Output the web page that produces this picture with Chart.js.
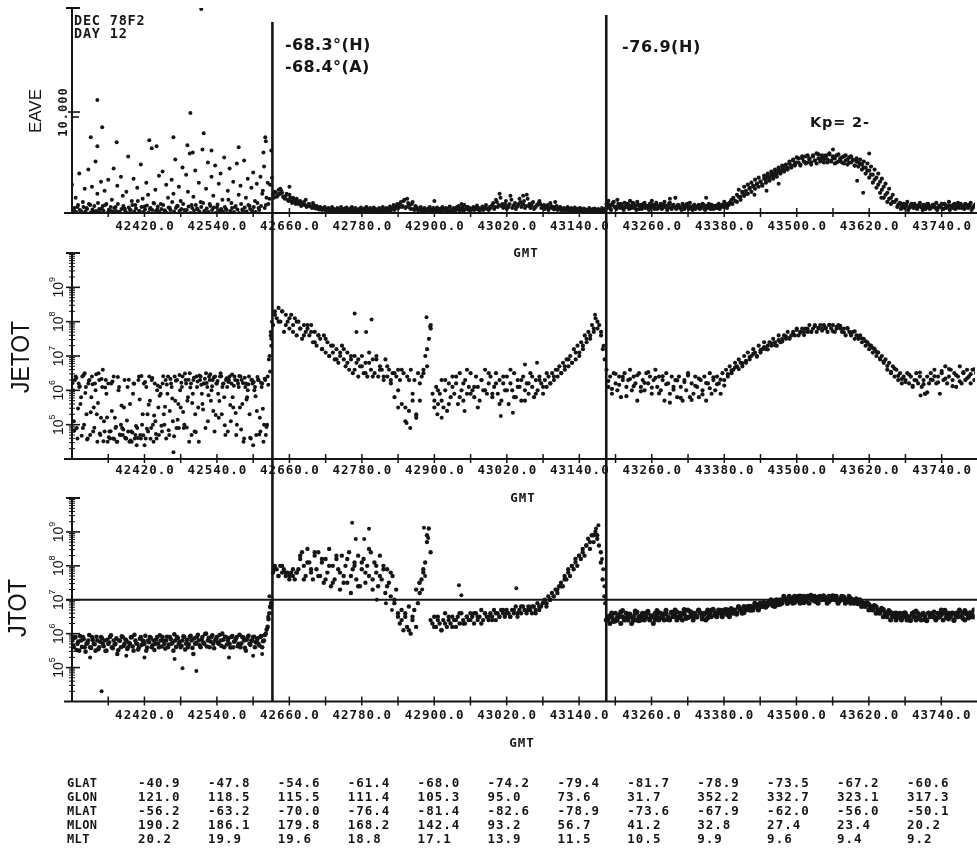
<!DOCTYPE html>
<html>
<head>
<meta charset="utf-8">
<title>DEC 78F2 DAY 12</title>
<script src="https://cdn.jsdelivr.net/npm/chart.js@4.4.1/dist/chart.umd.min.js"></script>
<style>
  html, body { margin: 0; padding: 0; background: #fff; }
  #wrap { position: relative; width: 977px; height: 850px; overflow: hidden; background: #fff; }
  .layer { position: absolute; left: 0; top: 0; }
</style>
</head>
<body>
<div id="wrap">
  <canvas id="c1" class="layer" width="977" height="850"></canvas>
  <canvas id="c2" class="layer" width="977" height="850"></canvas>
  <canvas id="c3" class="layer" width="977" height="850"></canvas>
</div>
<script>
// ---------------------------------------------------------------------------
// Time axis (GMT seconds)
// ---------------------------------------------------------------------------
const gmtTickTimes = [42360, 42420, 42480, 42540, 42600, 42660, 42720, 42780, 42840, 42900, 42960, 43020,
                      43080, 43140, 43200, 43260, 43320, 43380, 43440, 43500, 43560, 43620, 43680, 43740];
const gmtLabelTimes = [42420, 42540, 42660, 42780, 42900, 43020, 43140, 43260, 43380, 43500, 43620, 43740];
const boundaryTimes = [42632, 43185];

// ---------------------------------------------------------------------------
// EAVE (average energy) samples, 3 s cadence
// ---------------------------------------------------------------------------
const eaveSeg1 = [ // from 42300
  2800, 300, 1500, 600, 3900, 200, 1100, 2400, 500, 4300,
  800, 2600, 150, 5100, 1900, 400, 3100, 700, 2200, 900,
  3300, 250, 1300, 4400, 600, 2700, 100, 3600, 1700, 450,
  2100, 5600, 300, 1200, 3400, 800, 2500, 200, 4800, 1400,
  650, 3000, 1800, 400, 6400, 1000, 2300, 350, 3700, 900,
  4100, 250, 2800, 1500, 500, 3300, 1900, 5300, 700, 2600,
  1200, 4500, 300, 3800, 2100, 5900, 800, 1600, 4200, 450,
  3000, 1100, 6300, 200, 2400, 5000, 900, 3600, 1700, 4700,
  550, 2900, 3900, 1300, 5500, 400, 2200, 4400, 1000, 3100,
  600, 4900, 1800, 2700, 350, 5200, 1500, 3400, 700, 2500,
  4000, 1200, 2900, 500, 3600, 1900, 4600, 800, 3000, 1400, 6200
];
const eaveSeg1Low = [ // from 42301
  200, 500, 100, 800, 300, 0, 600, 150, 400, 900,
  50, 350, 700, 200, 1000, 100, 450, 250, 800, 0,
  300, 600, 150, 500, 200, 900, 100, 400, 700, 250,
  0, 550, 300, 800, 150, 450, 1200, 200, 600, 100,
  350, 750, 50, 500, 300, 950, 200, 650, 100, 400,
  800, 250, 0, 550, 300, 1100, 150, 500, 700, 200,
  400, 900, 100, 300, 650, 0, 500, 250, 800, 350,
  150, 600, 1000, 200, 450, 100, 700, 300, 550, 0,
  850, 250, 400, 150, 600, 300, 1300, 200, 500, 100,
  700, 350, 0, 900, 250, 550, 150, 800, 400, 200,
  600, 100, 1000, 300, 700, 2200, 500, 1500, 900, 2800, 3500
];
const eaveSeg2 = [ // from 42633
  1800, 2100, 1600, 2300, 1900, 2000, 1500, 1700, 1300, 1800,
  1200, 1500, 1100, 1400, 900, 1200, 800, 1100, 1300, 700,
  900, 600, 1000, 500, 700, 400, 600, 300, 500, 250,
  400, 200, 300, 150, 350, 200, 250, 100, 300, 200,
  150, 250, 100, 300, 200, 150, 250, 100, 200, 300,
  100, 200, 150, 250, 100, 200, 300, 150, 200, 100,
  250, 150, 300, 200, 400, 250, 500, 300, 700, 450,
  900, 600, 1200, 500, 1400, 800, 400, 1100, 300, 600,
  250, 400, 200, 300, 150, 250, 350, 200, 300, 150,
  200, 300, 150, 250, 400, 200, 300, 150, 250, 350,
  200, 300, 500, 250, 400, 200, 350, 600, 300, 250,
  400, 300, 500, 350, 250, 450, 300, 600, 400, 300,
  500, 800, 400, 1300, 600, 1900, 700, 500, 900, 400,
  600, 1700, 500, 800, 400, 700, 1400, 600, 900, 500,
  1800, 700, 500, 1000, 400, 600, 800, 1200, 500, 700,
  400, 600, 300, 1000, 500, 350, 600, 300, 450, 250,
  350, 200, 400, 250, 300, 150, 350, 200, 250, 300,
  150, 250, 200, 100, 300, 150, 200, 250, 100, 200,
  150, 300, 200, 250
];
const eaveLow2 = [ // from 42634.5
  1500, 2000, 1700, 1900, 2200, 1600, 1400, 1900, 1200, 1500,
  1000, 1300, 900, 1200, 1000, 700, 1000, 800, 600, 900,
  700, 500, 800, 450, 600, 350, 500, 400, 600, 300,
  500, 350, 600, 400, 250, 500, 350, 600, 300, 450,
  550, 300, 450, 600, 350, 500, 250, 400, 550, 300,
  450, 600, 350, 500, 300, 550, 400, 250, 500, 350,
  600, 400, 500, 300, 650, 450, 800, 500, 900, 600,
  1100, 700, 1300, 600, 1000, 500, 900, 400, 700, 500,
  400, 600, 350, 500, 300, 450, 600, 350, 500, 400,
  550, 300, 450, 600, 350, 500, 400, 650, 300, 500,
  450, 600, 700, 400, 550, 800, 450, 600, 500, 350,
  600, 450, 750, 500, 400, 650, 550, 800, 450, 600,
  700, 1000, 600, 1100, 800, 1500, 900, 600, 1200, 700,
  900, 1300, 700, 1000, 600, 900, 1100, 800, 1200, 700,
  1400, 900, 700, 1100, 600, 800, 1000, 900, 700, 800,
  600, 800, 500, 700, 600, 450, 700, 500, 600, 400,
  500, 350, 600, 400, 500, 300, 550, 350, 450, 500,
  300, 450, 350, 250, 500, 300, 400, 450, 250, 400,
  300, 500, 400, 450
];
const eaveSeg3 = [ // from 43185
  900, 1200, 500, 800, 1100, 600, 1300, 700, 900, 500,
  1000, 600, 800, 1200, 500, 900, 700, 1100, 400, 800,
  600, 1000, 700, 500, 900, 1200, 600, 800, 400, 700,
  900, 500, 1100, 700, 600, 1000, 400, 800, 1500, 600,
  700, 500, 900, 400, 800, 600, 1000, 500, 700, 400,
  600, 800, 500, 900, 400, 700, 600, 500, 800, 400,
  700, 500, 900, 600, 800, 1100, 700, 900, 1000, 1300,
  1500, 1200, 1800, 2300, 1600, 2100, 2600, 1900, 2800, 2400,
  3000, 2600, 3300, 2800, 3500, 3100, 2700, 3700, 3300, 3900,
  3500, 4100, 3700, 4300, 3900, 4500, 4100, 4700, 4300, 4800,
  4500, 5100, 4700, 5300, 4900, 5500, 5000, 4700, 5400, 5100,
  5600, 5000, 5400, 4800, 5700, 5200, 4900, 5800, 5300, 5500,
  5000, 5700, 5300, 5900, 5100, 5600, 5400, 5000, 5800, 5200,
  5500, 4900, 5700, 5300, 5000, 5600, 5200, 4700, 5400, 5000,
  5300, 4800, 5100, 4500, 4900, 4200, 4600, 3800, 4300, 3500,
  3900, 3100, 3400, 2600, 2900, 2000, 2400, 1500, 1800, 1100,
  1300, 800, 1000, 600, 900, 700, 1100, 500, 800, 600,
  900, 500, 700, 1000, 600, 800, 400, 900, 700, 500,
  800, 600, 1000, 500, 700, 900, 400, 800, 600, 1100,
  700, 500, 900, 600, 1000, 800, 500, 700, 900, 600,
  800, 1000, 500, 700, 900
];
const eaveLow3a = [ // from 43186.5
  500, 800, 300, 1000, 600, 400, 900, 500, 700, 300,
  600, 900, 400, 700, 1000, 500, 300, 800, 600, 400,
  900, 500, 700, 300, 600, 800, 400, 1000, 500, 700,
  400, 800, 600, 300, 900, 500, 700, 600, 400, 800,
  500, 300, 700, 600, 900, 400, 600, 300, 800, 500,
  700, 400, 600, 800, 300, 500, 900, 400, 700, 600,
  500, 800, 400, 700, 600, 900, 500, 800, 1100, 900
];
const eaveLow3b = [ // from 43666.5
  600, 900, 400, 700, 500, 800, 300, 600, 900, 500,
  700, 400, 800, 600, 300, 700, 500, 900, 400, 600,
  800, 500, 300, 700, 600, 400, 900, 500, 700, 300,
  600, 800, 400, 700, 500, 900, 600, 400, 800, 500,
  700, 300, 600, 800
];
const eaveBump = [ // from 43401
  1100, 1600, 1300, 2000, 1700, 2200, 1900, 2500, 2100, 2700,
  2400, 2900, 2600, 3100, 2800, 3400, 3000, 3600, 3200, 3800,
  3400, 4000, 3600, 4200, 3900, 4400, 4100, 4600, 4300, 4900,
  4500, 5200, 4700, 5000, 5400, 4800, 5600, 5100, 4900, 5700,
  5300, 5000, 5600, 5200, 5900, 5400, 5100, 5700, 5300, 5600,
  5000, 5800, 5200, 5500, 4900, 5700, 5100, 5400, 5000, 5600,
  5200, 4800, 5500, 5000, 5300, 4700, 5100, 4600, 4900, 4300,
  4500, 3900, 4200, 3500, 3800, 3000, 3300, 2500, 2800, 2000,
  2300, 1500, 1800, 1100, 1400, 900, 1100
];
const eaveExtra = [
  [42514, 20200], [42342, 11200], [42496, 9900], [42350, 8500], [42518, 7900], [42331, 7500],
  [42620, 7500], [42621, 7100], [42617, 6000], [42374, 7000], [42428, 7200], [42440, 6600],
  [42468, 7500], [42491, 6700], [42342, 6600], [42576, 6500], [42531, 6200], [42500, 6000],
  [42660, 2600], [42645, 2400], [42900, 1200], [42945, 900], [43047, 1700], [43100, 1100],
  [43290, 1400], [43350, 1500], [43430, 1800], [43450, 2200], [43470, 2900], [43560, 6300],
  [43600, 3200], [43610, 2000], [43620, 5900], [43640, 1500]
];

// ---------------------------------------------------------------------------
// JETOT samples, log10 values
// ---------------------------------------------------------------------------
const jetotSeg1 = [ // from 42300
  6.3, 5.1, 6.4, 4.6, 6.1, 5.8, 4.9, 6.5, 5.3, 6.2,
  4.7, 6.4, 5.5, 6.0, 4.5, 6.3, 5.2, 6.6, 4.8, 5.9,
  6.2, 4.6, 5.4, 6.4, 4.9, 4.5, 6.1, 5.0, 4.7, 6.3,
  4.6, 4.8, 5.6, 4.5, 6.2, 4.7, 4.9, 6.4, 4.6, 5.3,
  4.4, 6.1, 4.8, 5.7, 6.3, 4.5, 5.1, 6.0, 4.7, 5.9,
  6.2, 5.0, 4.6, 6.4, 5.4, 6.1, 4.2, 5.7, 6.3, 4.9,
  5.5, 6.4, 5.0, 6.2, 5.8, 6.5, 4.7, 6.3, 5.3, 6.1,
  4.5, 6.4, 5.6, 6.2, 6.5, 5.1, 6.3, 6.0, 5.4, 6.4,
  6.2, 5.2, 6.5, 6.1, 5.8, 6.3, 4.8, 6.4, 6.2, 5.5,
  6.3, 5.0, 6.1, 6.4, 5.6, 4.6, 6.2, 6.0, 5.3, 6.3,
  4.4, 6.1, 5.4, 6.3, 4.8, 6.2, 5.0, 4.7, 6.4, 7.0, 7.3
];
const jetotSeg1B = [ // from 42302
  6.0, 6.3, 4.9, 6.2, 5.6, 6.4, 5.0, 6.1, 4.6, 6.3,
  5.8, 4.8, 6.2, 5.3, 6.5, 4.7, 6.1, 5.1, 6.3, 4.5,
  4.8, 6.2, 4.6, 5.2, 4.5, 6.0, 4.7, 4.9, 5.5, 4.6,
  6.1, 4.5, 4.8, 5.9, 4.6, 4.4, 6.3, 4.7, 5.0, 6.2,
  4.6, 5.3, 6.4, 4.9, 5.0, 6.2, 4.6, 5.5, 6.1, 4.8,
  5.3, 6.3, 5.9, 4.7, 6.2, 5.1, 6.4, 4.9, 5.6, 6.0,
  6.1, 4.9, 6.3, 5.7, 4.5, 6.2, 5.9, 4.8, 6.4, 5.5,
  6.3, 5.9, 6.2, 4.9, 6.1, 6.4, 5.7, 6.3, 4.8, 6.2,
  5.9, 6.4, 5.3, 6.2, 4.7, 6.1, 6.3, 5.1, 5.8, 6.4,
  4.7, 6.2, 5.5, 6.3, 4.5, 6.1, 5.8, 6.4, 4.6, 6.2,
  6.0, 4.7, 6.3, 5.2, 6.1, 4.5, 6.3, 5.0, 6.9, 7.6
];
const jetotSeg1C = [ // from 42301
  6.21, 4.83, 6.36, 5.47, 6.12, 4.68, 6.44, 5.92, 4.57, 6.29,
  5.36, 6.18, 4.91, 6.47, 5.63, 4.74, 6.33, 4.52, 6.08, 5.21,
  4.63, 4.81, 6.26, 4.58, 4.94, 6.39, 4.71, 5.56, 4.86, 4.62,
  5.12, 6.31, 4.54, 4.77, 6.19, 4.96, 4.61, 5.73, 6.42, 4.69,
  6.24, 4.88, 5.58, 4.59, 6.36, 5.27, 4.73, 6.14, 5.84, 4.97,
  6.41, 5.52, 6.17, 4.84, 6.33, 5.76, 4.66, 6.28, 5.14, 6.45,
  6.22, 5.37, 6.49, 4.92, 6.31, 6.08, 5.63, 6.37, 4.79, 6.26,
  6.43, 6.16, 5.44, 6.34, 6.21, 5.86, 6.47, 6.12, 6.38, 5.28,
  6.27, 5.69, 6.41, 6.19, 4.98, 6.35, 6.24, 5.57, 6.46, 6.13,
  5.34, 6.29, 6.42, 4.86, 6.21, 6.37, 5.73, 6.18, 4.62, 6.31,
  6.24, 5.83, 6.39, 4.71, 6.22, 5.46, 6.34, 4.93, 6.16, 6.55
];
const jetotSeg2 = [ // from 42633
  7.9, 8.3, 8.1, 8.4, 8.0, 8.3, 7.7, 8.2, 8.0, 7.8,
  8.2, 7.9, 8.1, 7.6, 8.0, 7.8, 7.5, 7.9, 7.7, 7.8,
  7.6, 7.9, 7.4, 7.7, 7.3, 7.6, 7.5, 7.2, 7.6, 7.1,
  7.4, 7.0, 7.3, 7.1, 6.9, 7.2, 6.8, 7.0, 7.3, 6.9,
  6.7, 7.1, 6.6, 6.9, 6.5, 7.0, 6.8, 6.4, 6.7, 7.0,
  6.5, 6.8, 6.4, 7.1, 6.6, 6.9, 6.5, 7.0, 6.4, 6.7,
  6.6, 6.3, 6.9, 6.4, 6.6, 6.2, 6.5, 5.8, 6.4, 6.6,
  6.3, 5.6, 6.5, 5.1, 6.4, 5.4, 6.6, 5.9, 6.3, 5.3,
  6.5, 5.7, 6.4, 6.6, 7.0, 6.7, 7.5, 7.9, 5.9, 5.7,
  6.1, 5.6, 5.9, 6.3, 5.5, 6.0, 5.4, 6.2, 5.8, 6.4,
  5.9, 6.2, 5.6, 6.5, 6.0, 5.7, 6.3, 5.9, 6.1, 6.5,
  6.0, 5.8, 6.4, 6.1, 5.7, 6.3, 6.0, 6.6, 5.9, 6.2,
  6.4, 5.8, 6.1, 6.5, 5.9, 6.3, 5.7, 6.2, 6.0, 6.4,
  5.6, 6.2, 6.0, 6.5, 5.8, 6.3, 6.1, 5.7, 6.4, 6.0,
  6.2, 5.9, 6.5, 6.1, 5.8, 6.3, 6.0, 6.4, 6.2, 5.9,
  6.3, 6.1, 6.4, 6.2, 6.5, 6.3, 6.6, 6.4, 6.7, 6.5,
  6.8, 6.6, 6.9, 6.7, 7.0, 6.8, 7.2, 6.9, 7.3, 7.1,
  7.4, 7.2, 7.6, 7.4, 7.7, 7.5, 7.9, 7.7, 8.1, 7.8,
  7.9, 7.6, 7.2, 6.9
];
const jetotSeg2B = [ // from 42636, 6 s
  8.2, 8.0, 8.3, 7.9, 8.1, 7.7, 8.0, 7.8, 7.6, 7.9,
  7.7, 7.4, 7.6, 7.2, 7.5, 7.0, 7.3, 6.9, 7.1, 7.2,
  6.8, 7.0, 6.6, 6.9, 6.7, 6.5, 6.8, 6.4, 6.9, 6.6,
  6.4, 6.7, 6.3, 6.5, 6.0, 6.6, 5.5, 6.3, 5.7, 5.2,
  6.2, 6.5, 7.2, 7.8, 5.5, 6.0, 5.7, 6.3, 5.6, 6.1,
  6.4, 5.8, 6.2, 6.6, 5.9, 6.1, 5.5, 6.3, 6.0, 6.5,
  5.9, 6.2, 5.6, 6.4, 6.0, 6.6, 5.8, 6.1, 6.3, 5.7,
  6.2, 6.4, 5.9, 6.3, 6.1, 6.5, 6.2, 6.4, 6.6, 6.5,
  6.7, 6.9, 6.8, 7.1, 7.0, 7.3, 7.5, 7.6, 7.8, 8.0,
  7.7
];
const jetotSeg3 = [ // from 43185
  6.6, 6.1, 6.4, 5.9, 6.5, 6.2, 6.0, 6.4, 5.8, 6.3,
  6.5, 6.1, 6.3, 6.6, 6.0, 6.4, 6.2, 5.7, 6.5, 6.1,
  6.3, 6.0, 6.5, 6.2, 6.4, 5.9, 6.3, 6.6, 6.1, 6.4,
  6.0, 6.3, 5.7, 6.5, 6.2, 5.9, 6.4, 6.1, 6.3, 5.8,
  6.4, 6.1, 5.7, 6.3, 6.0, 6.5, 5.8, 6.2, 5.9, 6.4,
  6.1, 5.8, 6.3, 6.0, 6.4, 5.7, 6.2, 6.5, 5.9, 6.3,
  6.0, 6.4, 6.2, 5.9, 6.5, 6.3, 6.6, 6.4, 6.7, 6.5,
  6.6, 6.8, 6.7, 6.9, 6.8, 6.7, 7.0, 6.8, 7.1, 6.9,
  7.0, 7.2, 7.1, 7.0, 7.3, 7.1, 7.2, 7.4, 7.2, 7.3,
  7.4, 7.3, 7.5, 7.4, 7.3, 7.6, 7.4, 7.5, 7.6, 7.5,
  7.7, 7.5, 7.6, 7.7, 7.6, 7.8, 7.6, 7.7, 7.8, 7.7,
  7.8, 7.7, 7.9, 7.7, 7.8, 7.9, 7.7, 7.8, 7.9, 7.8,
  7.9, 7.8, 7.7, 7.9, 7.8, 7.9, 7.7, 7.8, 7.9, 7.8,
  7.7, 7.8, 7.6, 7.8, 7.7, 7.6, 7.7, 7.5, 7.6, 7.5,
  7.6, 7.4, 7.5, 7.3, 7.4, 7.2, 7.3, 7.1, 7.2, 7.0,
  7.1, 6.9, 7.0, 6.8, 6.9, 6.6, 6.8, 6.5, 6.7, 6.4,
  6.6, 6.3, 6.5, 6.2, 6.4, 6.3, 6.5, 6.2, 6.4, 6.1,
  6.3, 6.5, 6.2, 6.4, 6.1, 6.3, 5.9, 6.4, 6.2, 6.5,
  6.3, 6.6, 6.2, 6.4, 5.9, 6.5, 6.3, 6.7, 6.2, 6.4,
  6.6, 6.3, 6.5, 6.1, 6.4, 6.7, 6.2, 6.5, 6.3, 6.6,
  6.4, 6.2, 6.6, 6.3, 6.5
];
const jetotSeg3B = [ // from 43188, 6 s
  6.27, 6.04, 6.48, 6.16, 6.39, 5.83, 6.33, 6.12, 6.44, 5.97,
  6.22, 6.53, 6.08, 6.36, 5.91, 6.41, 6.18, 5.64, 6.02, 6.29,
  5.78, 6.24, 6.43, 5.72, 6.13, 6.34, 5.88, 6.21, 6.06, 6.38,
  6.18, 6.31, 6.14, 6.47, 6.58, 6.67, 6.62, 6.79, 6.86, 6.97,
  7.06, 6.98, 7.17, 7.26, 7.19, 7.37, 7.31, 7.46, 7.42, 7.57,
  7.52, 7.63, 7.76, 7.68, 7.61, 7.79, 7.71, 7.87, 7.82, 7.74,
  7.83, 7.91, 7.72, 7.85, 7.88, 7.69, 7.81, 7.63, 7.72, 7.58,
  7.51, 7.43, 7.32, 7.24, 7.12, 6.93, 6.84, 6.71, 6.54, 6.63,
  6.42, 6.33, 6.24, 6.46, 6.13, 6.29, 6.52, 6.18, 5.94, 6.31,
  6.41, 6.23, 6.56, 6.34, 6.62, 6.12, 6.44, 6.26, 6.53, 6.35,
  6.47, 6.61
];
const jetotExtra = [
  [42768, 8.24], [42796, 8.06], [42771, 7.7], [42787, 7.7], [42887, 8.13], [42893, 7.86],
  [42854, 5.05], [42870, 5.26], [42840, 5.5], [42860, 4.9], [42905, 5.3], [42912, 5.2],
  [42950, 5.4], [43010, 5.25], [43030, 5.35], [43050, 6.75], [43070, 6.8], [43166, 8.2],
  [43180, 7.3], [42629, 7.7], [42631, 8.0], [42630, 7.5], [43705, 5.85], [43712, 5.9]
];

// ---------------------------------------------------------------------------
// JTOT samples, log10 values
// ---------------------------------------------------------------------------
const jtotSeg1 = [ // from 42300
  5.8, 5.6, 5.9, 5.7, 5.5, 5.8, 5.9, 5.6, 5.7, 5.8,
  5.6, 5.9, 5.7, 5.5, 5.8, 5.6, 5.9, 5.7, 5.8, 5.5,
  5.7, 5.9, 5.6, 5.8, 5.7, 5.4, 5.8, 5.6, 5.9, 5.7,
  5.8, 5.6, 5.7, 5.9, 5.5, 5.8, 5.7, 5.6, 5.9, 5.8,
  5.7, 5.5, 5.8, 5.9, 5.6, 5.8, 5.7, 5.9, 5.6, 5.8,
  5.9, 5.7, 5.8, 5.6, 5.9, 5.7, 5.5, 5.8, 5.9, 5.7,
  5.6, 5.8, 5.9, 5.7, 5.6, 5.9, 5.8, 5.4, 5.7, 5.9,
  5.8, 5.6, 5.9, 5.7, 6.0, 5.8, 5.6, 5.9, 5.7, 5.8,
  5.9, 5.7, 5.8, 6.0, 5.6, 5.9, 5.8, 5.7, 5.9, 5.6,
  5.8, 5.9, 5.7, 5.6, 5.9, 5.8, 5.5, 5.9, 5.7, 5.8,
  5.9, 5.6, 5.8, 5.7, 5.9, 5.6, 5.8, 6.0, 6.2, 6.6, 6.9
];
const jtotSeg1B = [ // from 42301.5
  5.65, 5.88, 5.52, 5.77, 5.93, 5.61, 5.84, 5.47, 5.72, 5.96,
  5.58, 5.81, 5.69, 5.91, 5.54, 5.76, 5.87, 5.63, 5.49, 5.82,
  5.74, 5.95, 5.57, 5.68, 5.86, 5.51, 5.79, 5.92, 5.64, 5.83,
  5.55, 5.73, 5.89, 5.62, 5.97, 5.71, 5.53, 5.85, 5.67, 5.78,
  5.94, 5.59, 5.75, 5.88, 5.66, 5.52, 5.83, 5.71, 5.95, 5.62,
  5.79, 5.56, 5.91, 5.68, 5.84, 5.73, 5.98, 5.61, 5.87, 5.76,
  5.64, 5.92, 5.53, 5.81, 5.69, 5.94, 5.58, 5.86, 5.72, 5.97,
  5.66, 5.83, 5.74, 5.99, 5.62, 5.88, 5.77, 5.95, 5.57, 5.84,
  5.73, 5.96, 5.64, 5.82, 5.91, 5.68, 5.87, 5.59, 5.93, 5.76,
  5.85, 5.63, 5.97, 5.71, 5.89, 5.58, 5.82, 5.94, 5.67, 5.79,
  5.91, 5.74, 5.86, 5.65, 5.93, 5.78, 5.96, 6.12, 6.43, 6.78
];
const jtotSeg2 = [ // from 42633
  7.8, 8.0, 7.9, 7.7, 8.0, 7.8, 7.9, 7.7, 7.8, 7.6,
  7.8, 7.7, 7.6, 7.8, 7.9, 8.2, 8.4, 8.0, 7.7, 8.5,
  8.1, 7.8, 7.6, 8.3, 7.9, 8.4, 7.7, 8.1, 7.5, 8.2,
  7.8, 8.5, 7.4, 8.0, 7.6, 8.2, 7.9, 7.3, 8.3, 7.7,
  8.0, 7.5, 8.4, 7.2, 7.9, 8.1, 7.6, 8.3, 7.4, 7.9,
  8.2, 7.5, 8.0, 7.7, 8.4, 7.3, 8.1, 7.8, 7.4, 8.3,
  7.6, 8.0, 7.2, 7.9, 7.5, 7.1, 7.7, 6.9, 7.3, 6.6,
  6.3, 6.7, 6.1, 6.5, 6.2, 6.8, 6.0, 6.4, 6.7, 6.2,
  6.9, 7.2, 7.6, 7.8, 8.1, 8.7, 9.1, 8.4, 6.3, 6.5,
  6.2, 6.5, 6.3, 6.1, 6.4, 6.6, 6.2, 6.4, 6.3, 6.5,
  6.4, 6.2, 6.5, 6.3, 6.6, 6.4, 6.3, 6.5, 6.4, 6.6,
  6.5, 6.3, 6.6, 6.4, 6.5, 6.7, 6.4, 6.6, 6.5, 6.4,
  6.6, 6.5, 6.7, 6.4, 6.6, 6.5, 6.7, 6.6, 6.5, 6.7,
  6.6, 6.5, 6.7, 6.6, 6.8, 6.5, 6.7, 6.6, 6.8, 6.7,
  6.6, 6.8, 6.7, 6.6, 6.8, 6.7, 6.9, 6.7, 6.8, 6.9,
  7.0, 6.9, 7.1, 7.0, 7.2, 7.1, 7.3, 7.2, 7.4, 7.5,
  7.4, 7.7, 7.6, 7.9, 7.7, 8.0, 7.9, 8.2, 8.0, 8.3,
  8.2, 8.5, 8.3, 8.6, 8.8, 8.5, 8.9, 8.7, 9.0, 8.8,
  8.6, 8.1, 7.6, 7.1
];
const jtotSeg2B = [ // from 42636, 6 s
  7.9, 7.7, 8.0, 7.8, 7.7, 7.9, 7.8, 8.3, 7.6, 8.1,
  7.9, 8.4, 7.7, 8.2, 7.6, 8.0, 7.5, 8.3, 7.8, 7.5,
  8.2, 7.7, 8.0, 7.4, 8.1, 7.8, 8.5, 7.6, 8.0, 7.7,
  7.9, 7.4, 7.8, 7.0, 6.5, 6.4, 6.6, 6.1, 6.5, 7.3,
  7.5, 7.9, 8.9, 6.4, 6.2, 6.4, 6.1, 6.3, 6.5, 6.2,
  6.4, 6.6, 6.3, 6.5, 6.4, 6.6, 6.5, 6.3, 6.6, 6.5,
  6.4, 6.6, 6.5, 6.7, 6.6, 6.5, 6.7, 6.6, 6.8, 6.7,
  6.7, 6.8, 6.6, 6.8, 6.9, 6.8, 7.0, 7.1, 7.3, 7.4,
  7.6, 7.8, 8.0, 8.1, 8.3, 8.4, 8.6, 8.7, 8.9, 8.9,
  8.4
];
const jtotSeg3 = [ // from 43185
  6.4, 6.5, 6.3, 6.5, 6.4, 6.6, 6.4, 6.5, 6.3, 6.5,
  6.4, 6.6, 6.4, 6.5, 6.3, 6.5, 6.6, 6.4, 6.5, 6.4,
  6.6, 6.4, 6.5, 6.6, 6.4, 6.5, 6.3, 6.6, 6.5, 6.4,
  6.6, 6.5, 6.4, 6.6, 6.5, 6.4, 6.6, 6.5, 6.7, 6.4,
  6.5, 6.6, 6.4, 6.6, 6.5, 6.7, 6.5, 6.6, 6.4, 6.6,
  6.5, 6.7, 6.6, 6.5, 6.6, 6.4, 6.7, 6.6, 6.5, 6.7,
  6.6, 6.5, 6.7, 6.6, 6.5, 6.7, 6.6, 6.7, 6.5, 6.7,
  6.6, 6.7, 6.6, 6.8, 6.7, 6.6, 6.8, 6.7, 6.8, 6.7,
  6.8, 6.7, 6.9, 6.8, 6.7, 6.9, 6.8, 6.9, 6.8, 6.9,
  6.9, 7.0, 6.9, 6.8, 7.0, 6.9, 7.0, 6.9, 7.1, 7.0,
  6.9, 7.1, 7.0, 6.9, 7.1, 7.0, 7.1, 6.9, 7.0, 7.1,
  7.0, 7.1, 6.9, 7.1, 7.0, 7.1, 7.0, 6.9, 7.1, 7.0,
  7.1, 7.0, 6.9, 7.1, 7.0, 7.1, 7.0, 7.1, 6.9, 7.0,
  7.1, 7.0, 6.9, 7.0, 7.1, 6.9, 7.0, 6.9, 7.0, 6.9,
  7.0, 6.8, 6.9, 6.8, 6.9, 6.7, 6.8, 6.7, 6.8, 6.6,
  6.7, 6.6, 6.7, 6.5, 6.6, 6.5, 6.6, 6.4, 6.5, 6.6,
  6.4, 6.5, 6.6, 6.4, 6.5, 6.6, 6.4, 6.5, 6.4, 6.6,
  6.5, 6.4, 6.6, 6.5, 6.4, 6.6, 6.5, 6.4, 6.6, 6.5,
  6.6, 6.5, 6.4, 6.6, 6.5, 6.7, 6.4, 6.6, 6.5, 6.6,
  6.5, 6.6, 6.4, 6.6, 6.5, 6.7, 6.5, 6.6, 6.4, 6.6,
  6.5, 6.6, 6.5, 6.7, 6.5
];
const jtotSeg3B = [ // from 43188, 6 s
  6.42, 6.61, 6.37, 6.55, 6.68, 6.46, 6.58, 6.39, 6.63, 6.51,
  6.44, 6.66, 6.53, 6.41, 6.62, 6.48, 6.69, 6.45, 6.57, 6.64,
  6.52, 6.71, 6.47, 6.63, 6.56, 6.68, 6.43, 6.61, 6.54, 6.72,
  6.58, 6.69, 6.62, 6.55, 6.74, 6.63, 6.77, 6.66, 6.72, 6.81,
  6.74, 6.86, 6.79, 6.92, 6.83, 6.88, 6.97, 6.85, 6.93, 7.02,
  6.94, 7.06, 6.97, 7.11, 6.91, 7.04, 7.13, 6.96, 7.08, 7.01,
  7.07, 6.95, 7.12, 7.03, 6.98, 7.09, 6.93, 7.04, 6.96, 6.88,
  6.94, 6.82, 6.87, 6.74, 6.79, 6.66, 6.71, 6.58, 6.63, 6.52,
  6.57, 6.46, 6.62, 6.41, 6.55, 6.67, 6.44, 6.59, 6.38, 6.53,
  6.64, 6.47, 6.56, 6.69, 6.43, 6.61, 6.52, 6.66, 6.45, 6.58,
  6.62, 6.49
];
const jtotSeg3C = [ // from 43191, 6 s
  6.53, 6.36, 6.47, 6.64, 6.41, 6.57, 6.49, 6.67, 6.38, 6.56,
  6.61, 6.43, 6.52, 6.68, 6.46, 6.59, 6.42, 6.63, 6.51, 6.47,
  6.58, 6.45, 6.66, 6.53, 6.49, 6.62, 6.57, 6.46, 6.69, 6.55,
  6.63, 6.52, 6.71, 6.59, 6.67, 6.57, 6.73, 6.62, 6.78, 6.69,
  6.81, 6.72, 6.87, 6.78, 6.94, 6.82, 6.91, 6.87, 6.99, 6.90,
  7.03, 6.92, 6.99, 7.08, 6.95, 7.10, 7.02, 6.94, 7.06, 7.12,
  6.97, 7.05, 7.10, 6.92, 7.06, 7.01, 6.97, 6.91, 7.03, 6.93,
  6.86, 6.91, 6.77, 6.83, 6.69, 6.75, 6.62, 6.68, 6.56, 6.61,
  6.48, 6.60, 6.52, 6.39, 6.63, 6.47, 6.56, 6.42, 6.61, 6.50,
  6.43, 6.58, 6.66, 6.48, 6.54, 6.39, 6.62, 6.51, 6.68, 6.46,
  6.57
];
const jtotExtra = [
  [42349, 4.3], [42483, 4.98], [42506, 4.9], [42330, 5.3], [42390, 5.35], [42420, 5.3],
  [42470, 5.25], [42560, 5.3], [42600, 5.35], [42615, 5.4], [42625, 6.5], [42628, 6.8],
  [42627, 7.1], [42764, 9.27], [42770, 8.79], [42784, 8.79], [42792, 9.09], [42883, 9.12],
  [42890, 8.82], [42941, 7.43], [42945, 7.13], [43036, 7.34], [42875, 7.5], [42880, 7.3],
  [42885, 7.7], [42820, 6.9], [42830, 6.7], [42805, 7.0], [43168, 9.1], [43172, 9.2],
  [43178, 8.2], [43180, 7.9], [43182, 7.4], [43183, 6.9]
];

// ---------------------------------------------------------------------------
// Orbit table
// ---------------------------------------------------------------------------
const tableRowNames = ['GLAT', 'GLON', 'MLAT', 'MLON', 'MLT'];
const glat = [-40.9, -47.8, -54.6, -61.4, -68.0, -74.2, -79.4, -81.7, -78.9, -73.5, -67.2, -60.6];
const glon = [121.0, 118.5, 115.5, 111.4, 105.3, 95.0, 73.6, 31.7, 352.2, 332.7, 323.1, 317.3];
const mlat = [-56.2, -63.2, -70.0, -76.4, -81.4, -82.6, -78.9, -73.6, -67.9, -62.0, -56.0, -50.1];
const mlon = [190.2, 186.1, 179.8, 168.2, 142.4, 93.2, 56.7, 41.2, 32.8, 27.4, 23.4, 20.2];
const mlt  = [20.2, 19.9, 19.6, 18.8, 17.1, 13.9, 11.5, 10.5, 9.9, 9.6, 9.4, 9.2];
const tableRows = [glat, glon, mlat, mlon, mlt];

// ---------------------------------------------------------------------------
// Drawing
// ---------------------------------------------------------------------------
const INK = '#151515';
const MONO = '"DejaVu Sans Mono", monospace';
const SANS = '"Liberation Sans", Arial, sans-serif';
const DSANS = '"DejaVu Sans", sans-serif';
const X_MIN = 42300, X_MAX = 43795;
const AXIS_LEFT = 72, PAGE_W = 977, PAGE_H = 850;

const asIs = v => v;
const fromLog = e => Math.pow(10, e);
function track(t0, step, values, toY) {
  return values.map((v, i) => ({ x: t0 + i * step, y: toY(v) }));
}
function pairs(list, toY) {
  return list.map(p => ({ x: p[0], y: toY(p[1]) }));
}
function dots(points, r) {
  return { data: points, pointRadius: r, pointHoverRadius: r, backgroundColor: INK, borderWidth: 0, showLine: false };
}
function seg(ctx, x1, y1, x2, y2) {
  ctx.beginPath(); ctx.moveTo(x1, y1); ctx.lineTo(x2, y2); ctx.stroke();
}
function rotText(ctx, s, x, y, font, maxW, spacing) {
  ctx.save();
  ctx.translate(x, y); ctx.rotate(-Math.PI / 2);
  ctx.font = font; ctx.textAlign = 'center'; ctx.textBaseline = 'middle';
  ctx.letterSpacing = spacing || '0px';
  if (maxW) ctx.fillText(s, 0, 0, maxW); else ctx.fillText(s, 0, 0);
  ctx.restore();
}
function powerLabel(ctx, exp, x, y) {
  ctx.save();
  ctx.translate(x, y); ctx.rotate(-Math.PI / 2);
  ctx.textAlign = 'left'; ctx.textBaseline = 'alphabetic';
  ctx.font = '14px ' + SANS; const w1 = ctx.measureText('10').width;
  ctx.font = '9px ' + SANS; const w2 = ctx.measureText(String(exp)).width;
  const start = -(w1 + w2) / 2;
  ctx.font = '14px ' + SANS; ctx.fillText('10', start, 5);
  ctx.font = '9px ' + SANS; ctx.fillText(String(exp), start + w1, -3);
  ctx.restore();
}
function txt(ctx, s, x, y, font, align, spacing) {
  ctx.font = font; ctx.textAlign = align || 'left'; ctx.textBaseline = 'alphabetic';
  ctx.letterSpacing = spacing || '0px';
  ctx.fillText(s, x, y);
  ctx.letterSpacing = '0px';
}

function drawFrame(chart, spec) {
  const ctx = chart.ctx, xs = chart.scales.x, ys = chart.scales.y;
  const L = xs.left, T = ys.top, B = ys.bottom;
  ctx.save();
  ctx.strokeStyle = INK; ctx.fillStyle = INK; ctx.lineCap = 'butt';

  // vertical axis with cap
  ctx.lineWidth = 2;
  seg(ctx, L, T, L, B);
  seg(ctx, L - 6, T, L + 8, T);
  // horizontal time axis
  seg(ctx, L - 8, B, PAGE_W, B);
  ctx.lineWidth = 1.5;
  gmtTickTimes.forEach(t => { const x = xs.getPixelForValue(t); seg(ctx, x, B - 5, x, B + 4); });
  gmtLabelTimes.forEach(t => {
    const x = xs.getPixelForValue(t);
    ctx.font = 'bold 12.5px ' + MONO; ctx.textAlign = 'center'; ctx.textBaseline = 'middle';
    ctx.letterSpacing = '1px';
    ctx.fillText(t.toFixed(1), x + 0.5, B + spec.labelDy);
  });
  ctx.letterSpacing = '0px';
  txt(ctx, 'GMT', spec.gmtX, B + spec.gmtDy, 'bold 12.5px ' + MONO, 'center', '1px');

  if (spec.log) {
    for (let d = 4; d < 10; d++) {
      for (let m = 2; m <= 9; m++) {
        const y = ys.getPixelForValue(m * Math.pow(10, d));
        ctx.lineWidth = 1; seg(ctx, L - 3, y, L + 3, y);
      }
    }
    [5, 6, 7, 8, 9].forEach(d => {
      const y = ys.getPixelForValue(Math.pow(10, d));
      ctx.lineWidth = 1.6; seg(ctx, L - 6, y, L + 8, y);
      powerLabel(ctx, d, 58, y);
    });
    rotText(ctx, spec.title, spec.titleX, spec.titleY, '25px ' + SANS, spec.titleW);
    if (spec.refLine) {
      const y = ys.getPixelForValue(spec.refLine);
      ctx.lineWidth = 2; seg(ctx, L - 6, y, PAGE_W, y);
    }
  } else {
    const y = ys.getPixelForValue(10000);
    ctx.lineWidth = 1.6; seg(ctx, L - 4, y, L + 8, y); seg(ctx, L, y + 5, L + 7, y + 5);
    rotText(ctx, '10.000', 64, y, 'bold 12px ' + MONO, null, '1px');
    rotText(ctx, spec.title, spec.titleX, spec.titleY, '17px ' + SANS);
  }
  ctx.restore();
}

function drawPageText(chart) {
  const ctx = chart.ctx;
  ctx.save();
  ctx.fillStyle = INK;
  txt(ctx, 'DEC 78F2', 74, 25, 'bold 13.5px ' + MONO, 'left', '0.8px');
  txt(ctx, 'DAY 12', 74, 38, 'bold 13.5px ' + MONO, 'left', '0.8px');
  txt(ctx, '-68.3°(H)', 285, 50, 'bold 16px ' + DSANS, 'left', '0.4px');
  txt(ctx, '-68.4°(A)', 285, 72, 'bold 16px ' + DSANS, 'left', '0.4px');
  txt(ctx, '-76.9(H)', 622, 52, 'bold 16px ' + DSANS, 'left', '0.6px');
  txt(ctx, 'Kp= 2-', 810, 127, 'bold 14.5px ' + DSANS, 'left', '0.8px');

  // orbit table
  const rowY = [787, 801, 815, 829, 843];
  tableRowNames.forEach((name, r) => {
    txt(ctx, name, 67, rowY[r], 'bold 12px ' + MONO, 'left', '0.4px');
    tableRows[r].forEach((v, c) => {
      txt(ctx, v.toFixed(1), 138 + c * 69.9, rowY[r], 'bold 12.5px ' + MONO, 'left', '1px');
    });
  });
  ctx.restore();
}

function drawBoundaries(chart) {
  const ctx = chart.ctx, xs = chart.scales.x;
  const tops = [22, 15];
  ctx.save();
  ctx.strokeStyle = INK; ctx.lineWidth = 2.6;
  boundaryTimes.forEach((t, i) => {
    const x = xs.getPixelForValue(t);
    seg(ctx, x, tops[i], x, 702);
  });
  ctx.restore();
}

const panels = [
  {
    canvas: 'c1', top: 8, bottom: 213, log: false, min: 0, max: 20300,
    title: 'EAVE', titleX: 36, titleY: 111, labelDy: 14, gmtX: 526, gmtDy: 44,
    datasets: [
      dots(track(42301, 3, eaveSeg1Low, asIs), 2),
      dots(track(42300, 3, eaveSeg1, asIs), 2),
      dots(track(42633, 3, eaveSeg2, asIs), 2),
      dots(track(42634.5, 3, eaveLow2, asIs), 2),
      dots(track(43185, 3, eaveSeg3, asIs), 2.1),
      dots(track(43186.5, 3, eaveLow3a, asIs), 2.1),
      dots(track(43666.5, 3, eaveLow3b, asIs), 2.1),
      dots(track(43401, 3, eaveBump, asIs), 2.1),
      dots(pairs(eaveExtra, asIs), 2)
    ],
    extra: drawPageText
  },
  {
    canvas: 'c2', top: 253, bottom: 459, log: true, min: 1e4, max: 1e10,
    title: 'JETOT', titleX: 22, titleY: 357, titleW: 72, labelDy: 12, gmtX: 523, gmtDy: 43,
    datasets: [
      dots(track(42300, 3, jetotSeg1, fromLog), 2),
      dots(track(42302, 3, jetotSeg1B, fromLog), 2),
      dots(track(42301, 3, jetotSeg1C, fromLog), 2),
      dots(track(42633, 3, jetotSeg2, fromLog), 2.1),
      dots(track(42636, 6, jetotSeg2B, fromLog), 2.1),
      dots(track(43185, 3, jetotSeg3, fromLog), 2.1),
      dots(track(43188, 6, jetotSeg3B, fromLog), 2.1),
      dots(pairs(jetotExtra, fromLog), 2)
    ]
  },
  {
    canvas: 'c3', top: 498, bottom: 701.5, log: true, min: 1e4, max: 1e10, refLine: 1e7,
    title: 'JTOT', titleX: 19, titleY: 608, titleW: 58, labelDy: 14, gmtX: 522, gmtDy: 45,
    datasets: [
      dots(track(42300, 3, jtotSeg1, fromLog), 2.3),
      dots(track(42301.5, 3, jtotSeg1B, fromLog), 2.3),
      dots(track(42633, 3, jtotSeg2, fromLog), 2.2),
      dots(track(42636, 6, jtotSeg2B, fromLog), 2.2),
      dots(track(43185, 3, jtotSeg3, fromLog), 2.5),
      dots(track(43188, 6, jtotSeg3B, fromLog), 2.5),
      dots(track(43191, 6, jtotSeg3C, fromLog), 2.5),
      dots(pairs(jtotExtra, fromLog), 2)
    ],
    extra: drawBoundaries
  }
];

panels.forEach(spec => {
  const frame = {
    id: 'frame_' + spec.canvas,
    afterDatasetsDraw(chart) {
      drawFrame(chart, spec);
      if (spec.extra) spec.extra(chart);
    }
  };
  new Chart(document.getElementById(spec.canvas), {
    type: 'scatter',
    data: { datasets: spec.datasets },
    options: {
      responsive: false,
      animation: false,
      devicePixelRatio: 1,
      events: [],
      layout: { padding: { left: AXIS_LEFT, right: 0, top: spec.top, bottom: PAGE_H - spec.bottom } },
      plugins: { legend: { display: false }, tooltip: { enabled: false } },
      scales: {
        x: { type: 'linear', min: X_MIN, max: X_MAX, display: false },
        y: { type: spec.log ? 'logarithmic' : 'linear', min: spec.min, max: spec.max, display: false }
      }
    },
    plugins: [frame]
  });
});
</script>
</body>
</html>
